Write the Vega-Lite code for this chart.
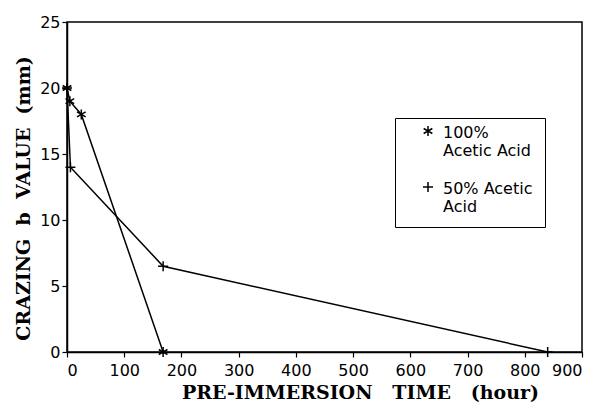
{
  "$schema": "https://vega.github.io/schema/vega-lite/v6.json",
  "width": 515,
  "height": 330,
  "autosize": "none",
  "padding": {"left": 67, "top": 22, "right": 15, "bottom": 53},
  "background": "white",
  "config": {
    "view": {"stroke": "black", "strokeWidth": 1.5},
    "axis": {
      "grid": false,
      "domainColor": "black",
      "domainWidth": 1.5,
      "tickColor": "black",
      "tickWidth": 1.2,
      "tickSize": 5,
      "labelFont": "DejaVu Sans",
      "labelFontSize": 16,
      "labelColor": "black",
      "titleFont": "DejaVu Serif",
      "titleFontWeight": "bold",
      "titleFontSize": 19,
      "titleColor": "black"
    }
  },
  "data": {
    "values": [
      {"series": "100%|Acetic Acid", "time": 0, "value": 20},
      {"series": "100%|Acetic Acid", "time": 5, "value": 19},
      {"series": "100%|Acetic Acid", "time": 25, "value": 18},
      {"series": "100%|Acetic Acid", "time": 168, "value": 0},
      {"series": "50% Acetic|Acid", "time": 0, "value": 20},
      {"series": "50% Acetic|Acid", "time": 6, "value": 14},
      {"series": "50% Acetic|Acid", "time": 168, "value": 6.5},
      {"series": "50% Acetic|Acid", "time": 840, "value": 0}
    ]
  },
  "encoding": {
    "x": {
      "field": "time", "type": "quantitative",
      "scale": {"domain": [0, 900], "nice": false},
      "axis": {"values": [0,100,200,300,400,500,600,700,800,900], "title": "PRE-IMMERSION\u00a0\u00a0 TIME\u00a0\u00a0 (hour)", "titlePadding": 5, "labelPadding": 5, "titleX": 293, "titleAlign": "center"}
    },
    "y": {
      "field": "value", "type": "quantitative",
      "scale": {"domain": [0, 25], "nice": false},
      "axis": {"values": [0,5,10,15,20,25], "title": "CRAZING\u00a0 b\u00a0 VALUE\u00a0 (mm)", "titlePadding": 6, "labelPadding": 2, "titleY": 176, "titleAlign": "center"}
    }
  },
  "resolve": {"scale": {"shape": "independent"}},
  "layer": [
    {
      "mark": {"type": "line", "color": "black", "strokeWidth": 1.5},
      "encoding": {"detail": {"field": "series"}}
    },
    {
      "mark": {"type": "point", "filled": false, "color": "black", "strokeWidth": 1.5, "size": 100, "opacity": 1},
      "encoding": {
        "shape": {
          "field": "series", "type": "nominal",
          "scale": {
            "domain": ["100%|Acetic Acid", "50% Acetic|Acid"],
            "range": ["M0,-1L0,1M-0.87,-0.5L0.87,0.5M-0.87,0.5L0.87,-0.5", "M-1,0L1,0M0,-1L0,1"]
          },
          "legend": null
        }
      }
    },
    {
      "mark": {"type": "point", "filled": false, "color": "black", "strokeWidth": 1.5, "size": 100, "opacity": 0},
      "encoding": {
        "shape": {
          "field": "series", "type": "nominal",
          "scale": {
            "domain": ["100%|Acetic Acid", "50% Acetic|Acid"],
            "range": ["M0,-2.4L0,-0.4M-0.87,-1.9L0.87,-0.9M-0.87,-0.9L0.87,-1.9", "M-1,-1.4L1,-1.4M0,-2.4L0,-0.4"]
          },
          "legend": {
            "title": null,
            "orient": "none",
            "legendX": 328,
            "legendY": 96,
            "strokeColor": "black",
            "fillColor": "white",
            "padding": 12,
            "symbolOffset": 13,
            "rowPadding": 20,
            "labelFont": "DejaVu Sans",
            "labelFontSize": 16,
            "labelColor": "black",
            "labelExpr": "split(datum.label, '|')",
            "labelLimit": 300,
            "symbolSize": 100,
            "symbolOpacity": 1,
            "symbolStrokeColor": "black",
            "symbolStrokeWidth": 1.5,
            "labelOffset": 7,
            "labelBaseline": "alphabetic"
          }
        }
      }
    }
  ]
}
